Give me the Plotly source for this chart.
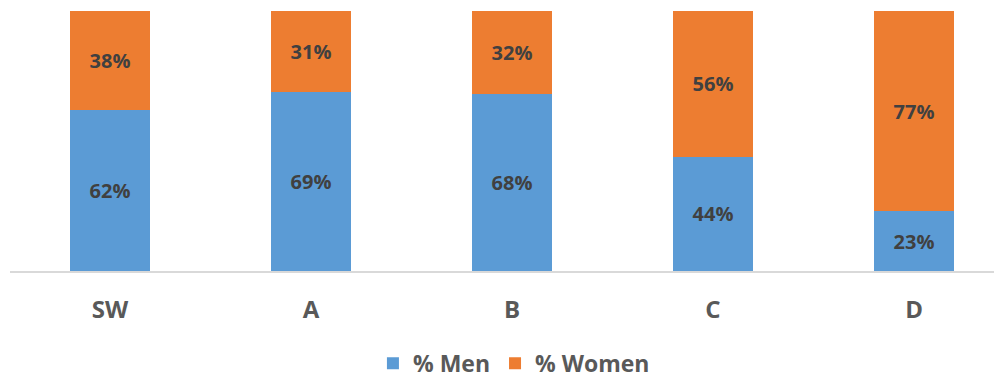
import plotly.graph_objects as go

categories = ["SW", "A", "B", "C", "D"]
men = [62, 69, 68, 44, 23]
women = [38, 31, 32, 56, 77]

men_color = "#5B9BD5"
women_color = "#ED7D31"
label_color = "#404040"
tick_color = "#595959"
font_family = "Open Sans"

fig = go.Figure()
fig.add_trace(go.Bar(
    x=categories, y=men, name="% Men", marker=dict(color=men_color, line=dict(width=0)),
    text=[f"<b>{v}%</b>" for v in men], textposition="inside", insidetextanchor="middle",
    textfont=dict(family=font_family, size=20, color=label_color), width=0.398,
))
fig.add_trace(go.Bar(
    x=categories, y=women, name="% Women", marker=dict(color=women_color, line=dict(width=0)),
    text=[f"<b>{v}%</b>" for v in women], textposition="inside", insidetextanchor="middle",
    textfont=dict(family=font_family, size=20, color=label_color), width=0.398,
))

fig.update_layout(
    barmode="stack",
    width=994, height=370,
    margin=dict(l=2, r=0, t=3, b=107, autoexpand=False),
    paper_bgcolor="white", plot_bgcolor="white",
    font=dict(family=font_family, color=tick_color),
    legend=dict(
        orientation="h", x=0.508, xanchor="center", y=-0.355, yanchor="middle",
        font=dict(family=font_family, size=23, color=tick_color, weight="bold"),
        traceorder="normal", itemwidth=30,
    ),
    xaxis=dict(
        range=[-0.4975, 4.4378], autorange=False, automargin=False, showgrid=False,
        showline=True, linecolor="#d9d9d9", linewidth=2,
        ticks="", tickfont=dict(family=font_family, size=24, color=tick_color, weight="bold"),
        ticklabelstandoff=16,
    ),
    yaxis=dict(range=[0, 100], autorange=False, automargin=False, showgrid=False,
               showticklabels=False, zeroline=False, showline=False),
)

fig.write_html("out.html")
